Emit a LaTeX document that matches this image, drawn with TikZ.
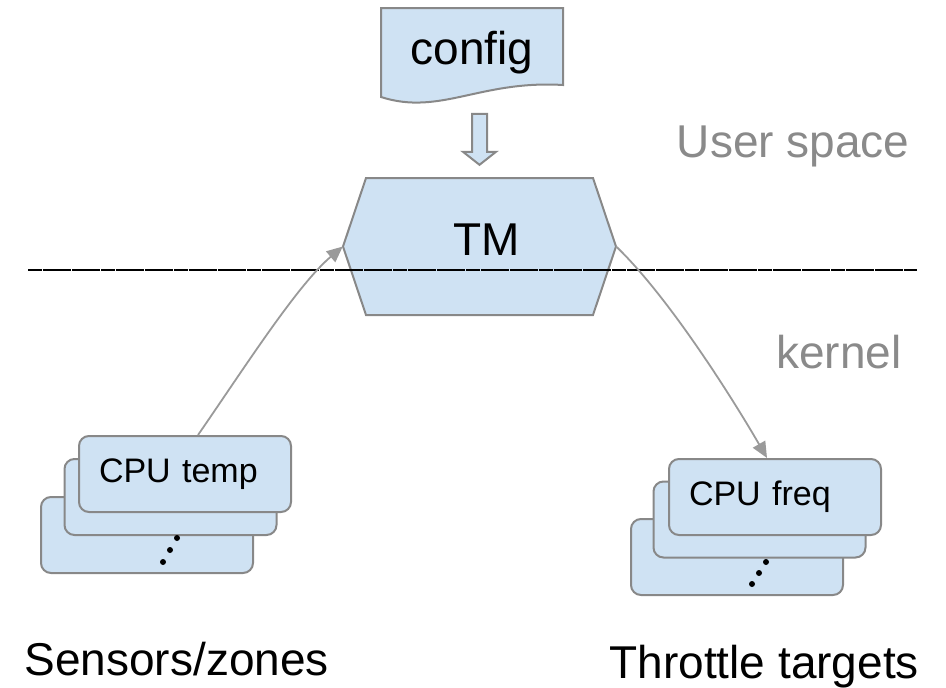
\documentclass[tikz,border=0pt]{standalone}
\usepackage{fontspec}
\setmainfont{Liberation Sans}
\usetikzlibrary{calc,arrows.meta}
\usetikzlibrary{positioning}
\definecolor{boxblue}{HTML}{CFE2F3}
\definecolor{edgegray}{HTML}{888888}
\definecolor{labelgray}{HTML}{8A8A8A}
\definecolor{arrowgray}{HTML}{9A9A9A}

\begin{document}
\begin{tikzpicture}[x=1pt, y=-1pt,
    card/.style={draw=edgegray, fill=boxblue, line width=2pt, rounded corners=10pt, minimum height=76pt, text width=172pt, inner xsep=20pt, align=left, font=\fontsize{34}{38}\selectfont},
    big/.style={font=\fontsize{46}{50}\selectfont},
    sheet/.style={draw=edgegray, fill=boxblue, line width=2pt},
    link/.style={draw=arrowgray, line width=1.8pt, -{Triangle[length=16pt, width=14pt]}}]
\useasboundingbox (0,0) rectangle (946,688);

\draw[sheet] (381,8) -- (563,8) -- (563,85) .. controls (480,80) and (440,116) .. (381,97) -- cycle;
\node[big, anchor=base](config) at (472,64){config};

\path[sheet] (343,246.5) -- (366,178) -- (593,178) -- (616,246.5) -- (593,315) -- (366,315) -- cycle;
\node[big, minimum width=273pt, minimum height=137pt, text height=33pt, text depth=16pt](tm) at (479.5,246.5){\hspace*{15pt}TM};

\draw[sheet, shift={(tm.north)}] (-7.5,-64) -- (7.5,-64) -- (7.5,-26) -- (16.5,-26) -- (0,-13) -- (-16.5,-26) -- (-7.5,-26) -- cycle;

\draw[line width=1.5pt, dash pattern=on 14pt off 0.6pt] (28,270) -- (917,270);

\node[big, text=labelgray, anchor=base east](user) at (913,157){User space};
\node[big, text=labelgray, anchor=base east](kern) at (905,368){kernel};

\node[card](s3) at (147,535){};
\node[card](s2) at (170.5,497){};
\node[card](s1) at (185,474){CPU temp};
\foreach \p in {(163,562),(170,550),(177,538)} \fill \p circle (3pt);

\node[card](t3) at (737,557){};
\node[card](t2) at (759.5,519.5){};
\node[card](t1) at (775,497){CPU freq};
\foreach \p in {(752,584),(759,573),(766,562)} \fill \p circle (3pt);

\draw[link] ($(s1.north)+(13,0)$) .. controls +(45,-65) and +(-46,39) .. (tm.west);
\draw[link] (tm.east) .. controls +(55,53) and +(-30,-52) .. ($(t1.north)+(-8,0)$);

\node[big, anchor=base west](sens) at (21,675){Sensors/zones};
\node[big, anchor=base west](thr) at (606,678){Throttle targets};
\end{tikzpicture}
\end{document}
